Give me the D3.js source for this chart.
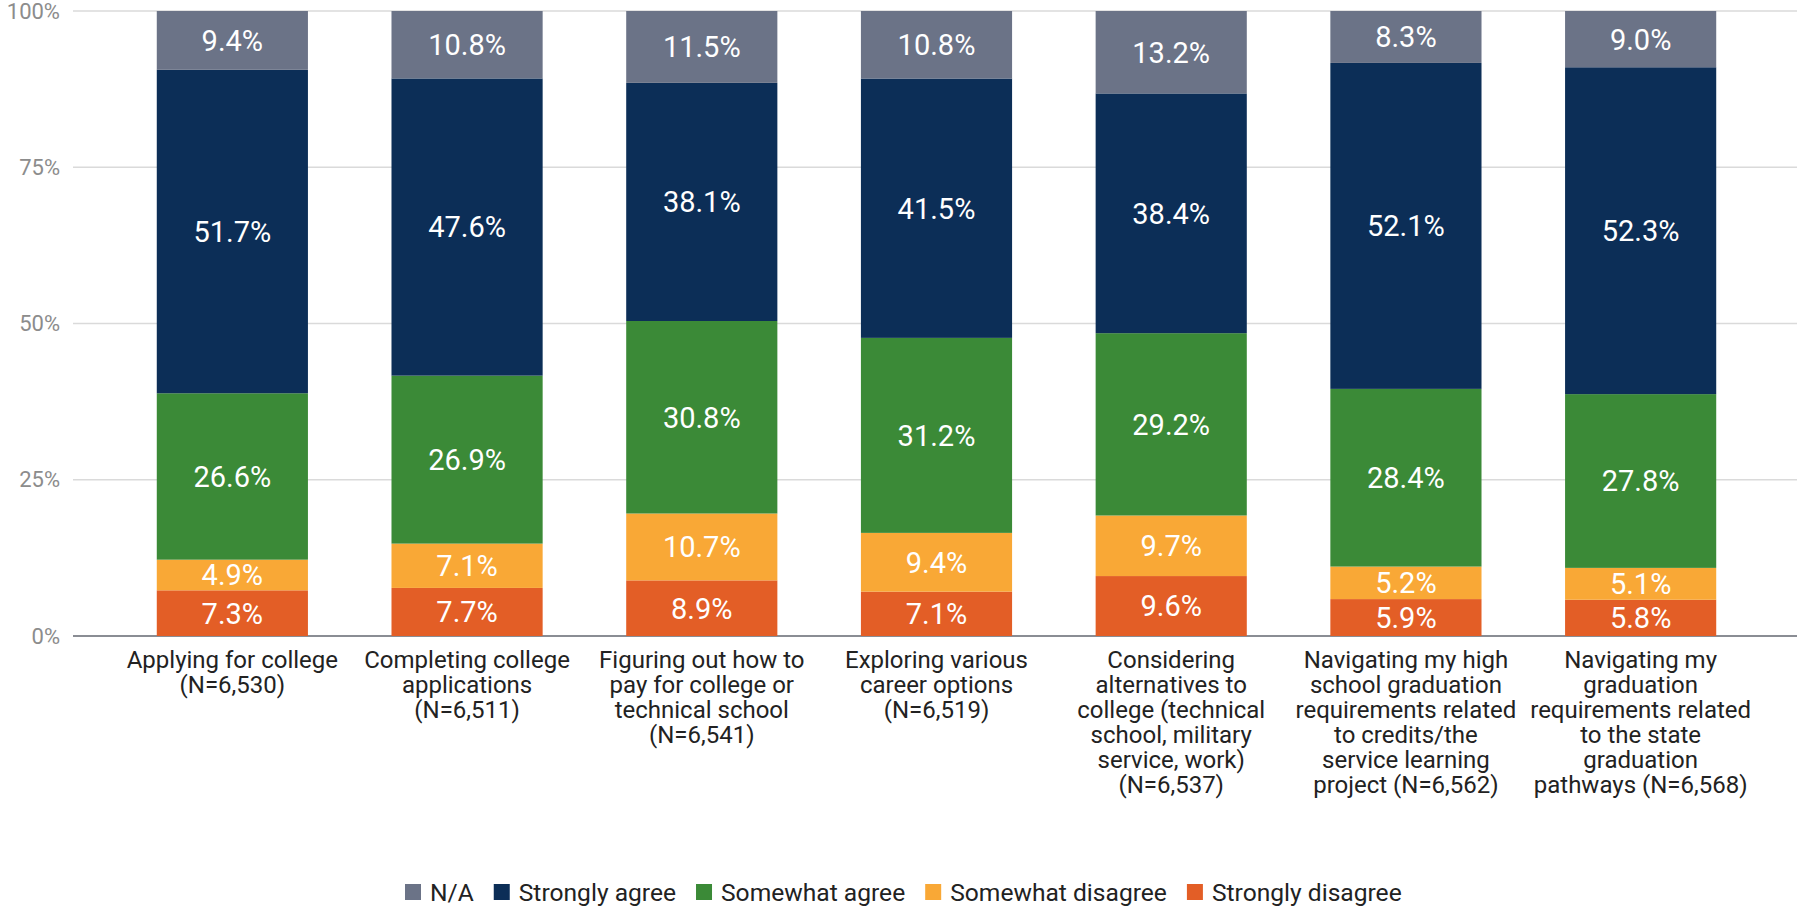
<!DOCTYPE html>
<html>
<head>
<meta charset="utf-8">
<script src="https://cdn.jsdelivr.net/npm/d3@7"></script>
<style>
  body { margin: 0; background: #fff; font-family: Roboto, sans-serif; }
</style>
</head>
<body>
<div id="chart"></div>
<script>
// Chart data
const categories = [
  ["Applying for college", "(N=6,530)"],
  ["Completing college", "applications", "(N=6,511)"],
  ["Figuring out how to", "pay for college or", "technical school", "(N=6,541)"],
  ["Exploring various", "career options", "(N=6,519)"],
  ["Considering", "alternatives to", "college (technical", "school, military", "service, work)", "(N=6,537)"],
  ["Navigating my high", "school graduation", "requirements related", "to credits/the", "service learning", "project (N=6,562)"],
  ["Navigating my", "graduation", "requirements related", "to the state", "graduation", "pathways (N=6,568)"]
];
const seriesNames = ["Strongly disagree", "Somewhat disagree", "Somewhat agree", "Strongly agree", "N/A"];
const stronglyDisagree = [7.3, 7.7, 8.9, 7.1, 9.6, 5.9, 5.8];
const somewhatDisagree = [4.9, 7.1, 10.7, 9.4, 9.7, 5.2, 5.1];
const somewhatAgree    = [26.6, 26.9, 30.8, 31.2, 29.2, 28.4, 27.8];
const stronglyAgree    = [51.7, 47.6, 38.1, 41.5, 38.4, 52.1, 52.3];
const notApplicable    = [9.4, 10.8, 11.5, 10.8, 13.2, 8.3, 9.0];
const yTicks = [0, 0.25, 0.5, 0.75, 1];
const legendOrder = ["N/A", "Strongly agree", "Somewhat agree", "Somewhat disagree", "Strongly disagree"];

const width = 1799, height = 907;

const color = d3.scaleOrdinal()
  .domain(seriesNames)
  .range(["#e35e26", "#f9a836", "#3b8a37", "#0c2e57", "#6b7387"]);

// table for the stack
const table = categories.map((c, i) => ({
  key: i,
  "Strongly disagree": stronglyDisagree[i],
  "Somewhat disagree": somewhatDisagree[i],
  "Somewhat agree": somewhatAgree[i],
  "Strongly agree": stronglyAgree[i],
  "N/A": notApplicable[i]
}));

const stacked = d3.stack()
  .keys(seriesNames)
  .offset(d3.stackOffsetExpand)(table);

const x = d3.scaleBand()
  .domain(d3.range(categories.length))
  .range([115, 1758])
  .paddingInner(0.356)
  .paddingOuter(0.178);

const y = d3.scaleLinear()
  .domain([0, 1])
  .range([636, 11]);

const svg = d3.select("#chart")
  .append("svg")
  .attr("width", width)
  .attr("height", height)
  .style("font-family", "Roboto, sans-serif");

// gridlines
svg.append("g")
  .selectAll("line")
  .data(yTicks)
  .join("line")
    .attr("x1", 73)
    .attr("x2", 1797)
    .attr("y1", d => y(d))
    .attr("y2", d => y(d))
    .attr("stroke", d => d === 0 ? "#8a8d94" : "#dadada")
    .attr("stroke-width", d => d === 0 ? 2 : 1.3);

// y tick labels
svg.append("g")
  .selectAll("text")
  .data(yTicks)
  .join("text")
    .attr("x", 60)
    .attr("y", d => y(d))
    .attr("dy", "0.35em")
    .attr("text-anchor", "end")
    .attr("fill", "#8c8c8c")
    .style("font-size", "22px")
    .text(d3.format(".0%"));

// bars
const layer = svg.append("g")
  .selectAll("g")
  .data(stacked)
  .join("g")
    .attr("fill", d => color(d.key));

layer.selectAll("rect")
  .data(d => d)
  .join("rect")
    .attr("x", d => x(d.data.key))
    .attr("y", d => y(d[1]))
    .attr("width", x.bandwidth())
    .attr("height", d => y(d[0]) - y(d[1]));

// value labels
svg.append("g")
  .selectAll("g")
  .data(stacked)
  .join("g")
  .selectAll("text")
  .data(d => d.map(p => ({ p, key: d.key })))
  .join("text")
    .attr("x", d => x(d.p.data.key) + x.bandwidth() / 2)
    .attr("y", d => (y(d.p[0]) + y(d.p[1])) / 2)
    .attr("dy", "0.36em")
    .attr("text-anchor", "middle")
    .attr("fill", "#fff")
    .style("font-size", "29px")
    .text(d => d3.format(".1f")(d.p.data[d.key]) + "%");

// category labels
const cat = svg.append("g")
  .selectAll("text")
  .data(categories)
  .join("text")
    .attr("x", (d, i) => x(i) + x.bandwidth() / 2)
    .attr("y", 668)
    .attr("text-anchor", "middle")
    .attr("fill", "#222")
    .style("font-size", "24px");

cat.selectAll("tspan")
  .data(d => d)
  .join("tspan")
    .attr("x", function () { return this.parentNode.getAttribute("x"); })
    .attr("dy", (d, i) => i === 0 ? 0 : 25)
    .text(d => d);

// legend
const legend = svg.append("g").attr("transform", "translate(405,892)");
let lx = 0;
legendOrder.forEach(name => {
  const g = legend.append("g").attr("transform", `translate(${lx},0)`);
  g.append("rect")
    .attr("x", 0).attr("y", -8)
    .attr("width", 16).attr("height", 16)
    .attr("fill", color(name));
  const t = g.append("text")
    .attr("x", 25)
    .attr("dy", "0.35em")
    .attr("fill", "#222")
    .style("font-size", "24.6px")
    .text(name);
  lx += 25 + t.node().getComputedTextLength() + 20;
});
</script>
</body>
</html>
